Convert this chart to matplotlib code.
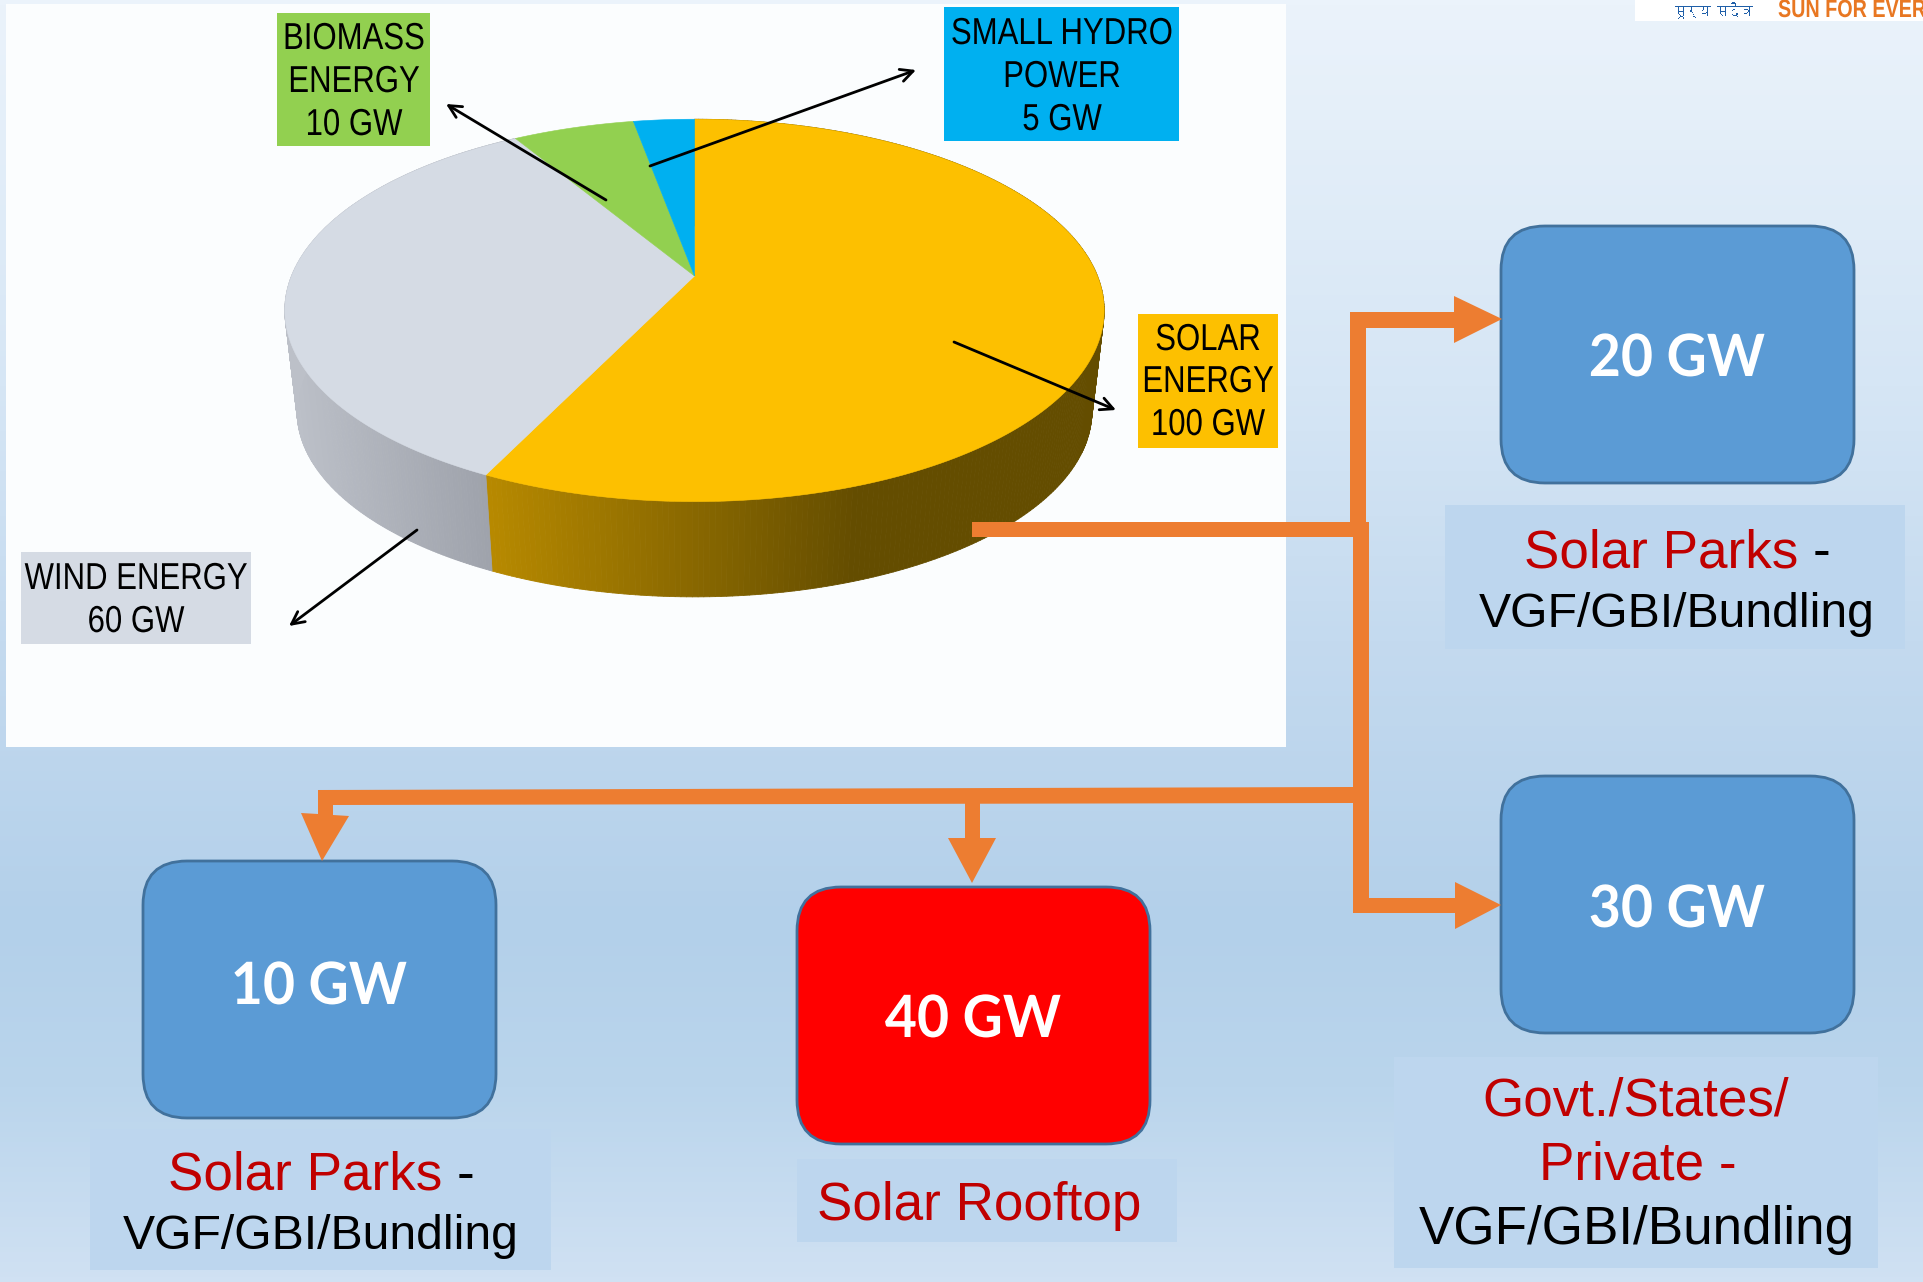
import numpy as np
import matplotlib
matplotlib.use('Agg')
import matplotlib.pyplot as plt
from matplotlib import font_manager as fm
from matplotlib.collections import PolyCollection
from matplotlib.patches import FancyBboxPatch, Polygon, Rectangle
from matplotlib.patheffects import AbstractPathEffect
from matplotlib.transforms import Affine2D
from matplotlib.ft2font import FT2Font

# data
source_names = ['SOLAR\nENERGY', 'WIND ENERGY', 'BIOMASS\nENERGY', 'SMALL HYDRO\nPOWER']
source_gw = [100, 60, 10, 5]
source_colors = ['#FDC000', '#D5DBE4', '#92D050', '#00B0F0']
split_gw = [20, 30, 10, 40]
unit = 'GW'

W, H = 1923, 1282
ORANGE = '#ED7D31'
RED_TXT = '#C00000'


class Squeeze(AbstractPathEffect):
    """ narrows a text around x0, no condensed font is installed """
    def __init__(self, x0, sx):
        super().__init__()
        self.x0 = x0
        self.sx = sx

    def draw_path(self, renderer, gc, tpath, affine, rgbFace=None):
        squeeze = Affine2D().translate(-self.x0, 0).scale(self.sx, 1).translate(self.x0, 0)
        renderer.draw_path(gc, tpath, affine + squeeze, rgbFace)


deva = None
for f in fm.fontManager.ttflist:
    try:
        if FT2Font(f.fname).get_char_index(0x0938) != 0:
            if deva is None or deva == 'Unifont':
                deva = f.name
    except Exception:
        pass

# pie geometry, tilted disc through a projective map
cx, cy = 694.5, 276.0
ecy = 310.0
a, b, k = 185.0, 403.0, 0.18


def project(theta):
    """ theta clockwise from top, degrees -> picture pixels """
    t = np.radians(theta)
    u, v = np.sin(t), np.cos(t)
    w = 1 + k*v
    return cx + b*u/w, cy - a*v/w


def lower(x, y):
    return cx + 0.97*(x - cx), ecy + 0.97*(y - ecy) + 101


fig = plt.figure(figsize=(W/100, H/100), dpi=100)
ax = fig.add_axes([0, 0, 1, 1])
ax.set_xlim(0, W)
ax.set_ylim(H, 0)
ax.axis('off')

# background
ys = np.linspace(0, 1, 256)
stops_y = [0, 0.3, 0.5, 0.72, 0.85, 1]
r = np.interp(ys, stops_y, [235, 214, 196, 179, 186, 208])
g = np.interp(ys, stops_y, [243, 230, 218, 208, 213, 225])
bl = np.interp(ys, stops_y, [251, 245, 239, 234, 236, 243])
grad = np.stack([r, g, bl], axis=1).reshape(-1, 1, 3)/255
ax.imshow(grad, extent=[0, W, H, 0], aspect='auto', zorder=0)
ax.set_xlim(0, W)
ax.set_ylim(H, 0)

# chart panel
ax.add_patch(Rectangle((6, 4), 1280, 743, fc='#FBFDFE', ec='none', zorder=1))

# logo strip, cut by the top edge
strip = Rectangle((1635, 0), 288, 21, fc='white', ec='none', zorder=1)
ax.add_patch(strip)
t = ax.text(1778, 17, 'SUN FOR EVER', color='#E87722', fontsize=18, weight='bold',
            family='Liberation Sans', va='baseline', zorder=2,
            path_effects=[Squeeze(1778, 0.79)])
t.set_clip_path(strip)
if deva:
    t2 = ax.text(1672, 17, 'सूर्य सदैव', color='#1F5FA8', fontsize=12, family=deva,
                 va='baseline', zorder=2, path_effects=[Squeeze(1681, 0.72)])
    t2.set_clip_path(strip)

# pie side
edges = np.cumsum([0] + source_gw)/sum(source_gw)*360
side_polys, side_cols = [], []
solar_dark = np.array([0x64, 0x4D, 0x00])/255
solar_light = np.array([0xB8, 0x8A, 0x00])/255
wind_light = np.array([0xBC, 0xC0, 0xC8])/255
wind_dark = np.array([0x9E, 0xA2, 0xAB])/255
for i in range(2):
    th = np.linspace(edges[i], edges[i+1], 300)
    x, y = project(th)
    xb, yb = lower(x, y)
    for j in range(len(th)-1):
        side_polys.append([(x[j], y[j]), (x[j+1], y[j+1]), (xb[j+1], yb[j+1]), (xb[j], yb[j])])
        if i == 0:
            f = np.clip((x[j] - 486)/(860 - 486), 0, 1)
            side_cols.append(solar_light*(1-f) + solar_dark*f)
        else:
            f = np.clip((x[j] - 290)/(490 - 290), 0, 1)
            side_cols.append(wind_light*(1-f) + wind_dark*f)
ax.add_collection(PolyCollection(side_polys, facecolors=side_cols, edgecolors=side_cols,
                                 linewidths=0.6, zorder=2))

# pie top
for i, c in enumerate(source_colors):
    th = np.linspace(edges[i], edges[i+1], 300)
    x, y = project(th)
    pts = np.column_stack([np.r_[cx, x], np.r_[cy, y]])
    ax.add_patch(Polygon(pts, closed=True, fc=c, ec=c, lw=0.4, zorder=3))

# orange connectors
conn = [
    [(972, 522), (1369, 522), (1369, 537), (972, 537)],
    [(1350, 313), (1366, 313), (1366, 522), (1350, 522)],
    [(1350, 312), (1454, 312), (1454, 296), (1502, 319), (1454, 343), (1454, 328), (1350, 328)],
    [(1353, 522), (1369, 522), (1369, 898), (1455, 898), (1455, 882), (1501, 905), (1455, 929),
     (1455, 913), (1353, 913)],
    [(318, 790), (1353, 787), (1353, 803), (333, 805), (333, 815), (349, 816), (322, 861),
     (301, 813), (318, 814)],
    [(965, 800), (980, 800), (980, 838), (996, 838), (972, 883), (948, 838), (965, 838)],
]
for p in conn:
    ax.add_patch(Polygon(p, closed=True, fc=ORANGE, ec='none', zorder=5))

# source labels
label_boxes = [(1138, 314, 140, 134), (21, 552, 230, 92), (277, 13, 153, 133), (944, 7, 235, 134)]
label_x = [1208, 136, 354, 1062]
label_base = [[350, 392], [589], [49, 92], [44, 87]]
for i in range(4):
    bx, by, bw, bh = label_boxes[i]
    ax.add_patch(Rectangle((bx, by), bw, bh, fc=source_colors[i], ec='none', zorder=4))
    lines = source_names[i].split('\n') + ['%d %s' % (source_gw[i], unit)]
    bases = label_base[i] + [label_base[i][-1] + 43]
    for s, yb in zip(lines, bases):
        ax.text(label_x[i], yb, s, family='Liberation Sans', fontsize=27, color='black',
                ha='center', va='baseline', zorder=6,
                path_effects=[Squeeze(label_x[i], 0.83)])

# label arrows
arrows = [((954, 342), (1116, 410)), ((417, 530), (289, 626)), ((606, 200), (446, 104)), ((650, 166), (916, 70))]
for st, en in arrows:
    ax.annotate('', xy=en, xytext=st, zorder=7,
                arrowprops=dict(arrowstyle='->,head_length=0.9,head_width=0.45', color='black',
                                lw=2, shrinkA=0, shrinkB=0))

# GW boxes
box_pos = [(1501, 226), (1501, 776), (143, 861), (797, 887)]
box_base = [376, 927, 1004, 1037]
box_col = ['#5B9BD5', '#5B9BD5', '#5B9BD5', '#FF0000']
for i in range(4):
    bx, by = box_pos[i]
    ax.add_patch(FancyBboxPatch((bx, by), 353, 257, boxstyle='round,pad=0,rounding_size=44',
                                fc=box_col[i], ec='#41719C', lw=2, zorder=4))
    ax.text(bx + 176, box_base[i], '%d %s' % (split_gw[i], unit), family='Lato', weight='bold',
            fontsize=42, color='white', ha='center', va='baseline', zorder=6,
            path_effects=[Squeeze(bx + 176, 0.95)])

# caption panels
for bx, by, bw, bh in [(1445, 505, 460, 144), (90, 1129, 461, 141), (797, 1159, 380, 83), (1394, 1057, 484, 211)]:
    ax.add_patch(Rectangle((bx, by), bw, bh, fc='#BDD6EE', ec='none', zorder=2))

cap = dict(family='Liberation Sans', fontsize=38.2, va='baseline', ha='left', zorder=6)
ax.text(1524, 567, 'Solar Parks', color=RED_TXT, **cap)
ax.text(1813, 567, '-', color='black', **cap)
ax.text(168, 1190, 'Solar Parks', color=RED_TXT, **cap)
ax.text(457, 1190, '-', color='black', **cap)
ax.text(817, 1220, 'Solar Rooftop', color=RED_TXT, **cap)
ax.text(1482, 1115, 'Govt./States/', color=RED_TXT, **cap)
ax.text(1539, 1180, 'Private -', color=RED_TXT, **cap)
ax.text(1419, 1244, 'VGF/GBI/Bundling', color='black', **cap)
cap['fontsize'] = 34.7
ax.text(1479, 627, 'VGF/GBI/Bundling', color='black', **cap)
ax.text(123, 1249, 'VGF/GBI/Bundling', color='black', **cap)

fig.savefig('out.png', dpi=100)
